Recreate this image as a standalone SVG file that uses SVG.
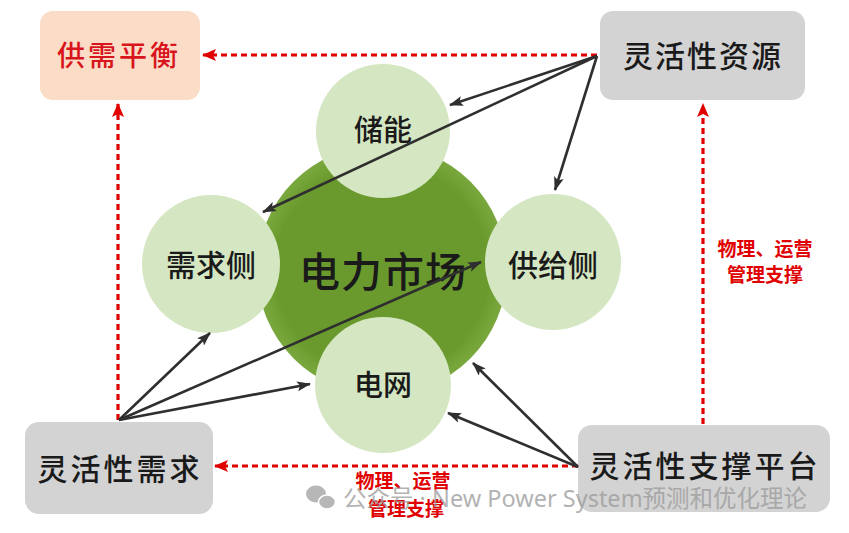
<svg xmlns="http://www.w3.org/2000/svg" width="849" height="533" viewBox="0 0 849 533">
  <defs>
    <style>
      .box { fill: #d3d3d3; }
      .peach { fill: #fbdcc6; }
      .btxt { font-family: "Noto Sans CJK SC", "Noto Sans", sans-serif; fill: #1a1a1a; font-weight: 500; text-anchor: middle; }
      .rtxt { font-family: "Noto Sans CJK SC", "Noto Sans", sans-serif; fill: #d8141c; font-weight: 500; text-anchor: middle; }
      .lbl { font-family: "Noto Sans CJK SC", "Noto Sans", sans-serif; fill: #e00000; font-weight: bold; font-size: 19px; text-anchor: middle; }
      .circ { fill: #d5e7c2; }
      .blk { stroke: #2f2f2f; stroke-width: 2.6; fill: none; marker-end: url(#ah); }
      .red { stroke: #e00000; stroke-width: 3.2; fill: none; stroke-dasharray: 6 4; marker-end: url(#rh); }
      .wm { font-family: "Noto Sans", "Noto Sans CJK SC", sans-serif; fill: #9a9a9a; font-size: 23.5px; }
    </style>
    <marker id="ah" viewBox="0 0 14 10" refX="13" refY="5" markerWidth="14" markerHeight="10" markerUnits="userSpaceOnUse" orient="auto">
      <path d="M0,0 L14,5 L0,10 L3,5 Z" fill="#2f2f2f"/>
    </marker>
    <marker id="rh" viewBox="0 0 14 12" refX="13" refY="6" markerWidth="14" markerHeight="12" markerUnits="userSpaceOnUse" orient="auto">
      <path d="M0,0 L14,6 L0,12 L3,6 Z" fill="#e00000"/>
    </marker>
    <radialGradient id="dg" cx="50%" cy="50%" r="50%">
      <stop offset="0.85" stop-color="#6a9a2e"/>
      <stop offset="1" stop-color="#7aa83e"/>
    </radialGradient>
  </defs>

  <rect width="849" height="533" fill="#ffffff"/>

  <g id="market">
    <circle cx="382" cy="270" r="125" fill="url(#dg)"/>
  </g>
  <g id="storage">
    <circle class="circ" cx="383" cy="131" r="67"/>
    <text class="btxt" x="383" y="141" font-size="29">储能</text>
  </g>
  <g id="demand-side">
    <circle class="circ" cx="211" cy="264" r="69"/>
    <text class="btxt" x="211" y="276" font-size="30">需求侧</text>
  </g>
  <g id="supply-side">
    <circle class="circ" cx="553" cy="262" r="68"/>
    <text class="btxt" x="553" y="276" font-size="30">供给侧</text>
  </g>
  <g id="grid">
    <circle class="circ" cx="383" cy="385" r="68"/>
    <text class="btxt" x="383" y="396" font-size="29">电网</text>
  </g>
  <g id="market-label">
    <text class="btxt" x="383" y="287" font-size="41" letter-spacing="1">电力市场</text>
  </g>

  <g id="balance">
    <rect class="peach" x="40" y="11" width="160" height="89" rx="13"/>
    <text class="rtxt" x="119" y="66" font-size="28" letter-spacing="3">供需平衡</text>
  </g>
  <g id="flex-resource">
    <rect class="box" x="600" y="11" width="205" height="89" rx="13"/>
    <text class="btxt" x="703" y="67" font-size="30" letter-spacing="2">灵活性资源</text>
  </g>
  <g id="flex-demand">
    <rect class="box" x="25" y="422" width="188" height="92" rx="14"/>
    <text class="btxt" x="120" y="480" font-size="30" letter-spacing="3">灵活性需求</text>
  </g>
  <g id="flex-platform">
    <rect class="box" x="578" y="425" width="252" height="87" rx="14"/>
    <text class="btxt" x="705" y="477" font-size="30" letter-spacing="3">灵活性支撑平台</text>
  </g>

  <g id="connectors">
    <line class="red" x1="597" y1="55" x2="203" y2="55"/>
    <line class="red" x1="118" y1="420" x2="118" y2="104"/>
    <line class="red" x1="703" y1="424" x2="703" y2="104"/>
    <line class="red" x1="578" y1="466" x2="215" y2="466"/>

    <line class="blk" x1="597" y1="56" x2="450" y2="105"/>
    <line class="blk" x1="597" y1="56" x2="263" y2="212"/>
    <line class="blk" x1="597" y1="56" x2="555" y2="190"/>

    <line class="blk" x1="119" y1="420" x2="210" y2="333"/>
    <line class="blk" x1="119" y1="420" x2="481" y2="262"/>
    <line class="blk" x1="119" y1="420" x2="310" y2="384"/>

    <line class="blk" x1="578" y1="467" x2="473" y2="363"/>
    <line class="blk" x1="578" y1="467" x2="448" y2="413"/>
  </g>

  <g id="labels">
    <text class="lbl" x="765" y="256">物理、运营</text>
    <text class="lbl" x="765" y="282">管理支撑</text>
    <text class="lbl" x="403" y="488">物理、运营</text>
    <text class="lbl" x="406" y="516">管理支撑</text>
  </g>

  <g id="watermark" opacity="0.75">
    <ellipse cx="316" cy="494" rx="10" ry="8.5" fill="#a0a0a0"/>
    <ellipse cx="327" cy="502" rx="8.5" ry="7" fill="#a0a0a0" stroke="#ffffff" stroke-width="1.5"/>
    <text class="wm" x="343" y="507">公众号 · New Power System预测和优化理论</text>
  </g>
</svg>
